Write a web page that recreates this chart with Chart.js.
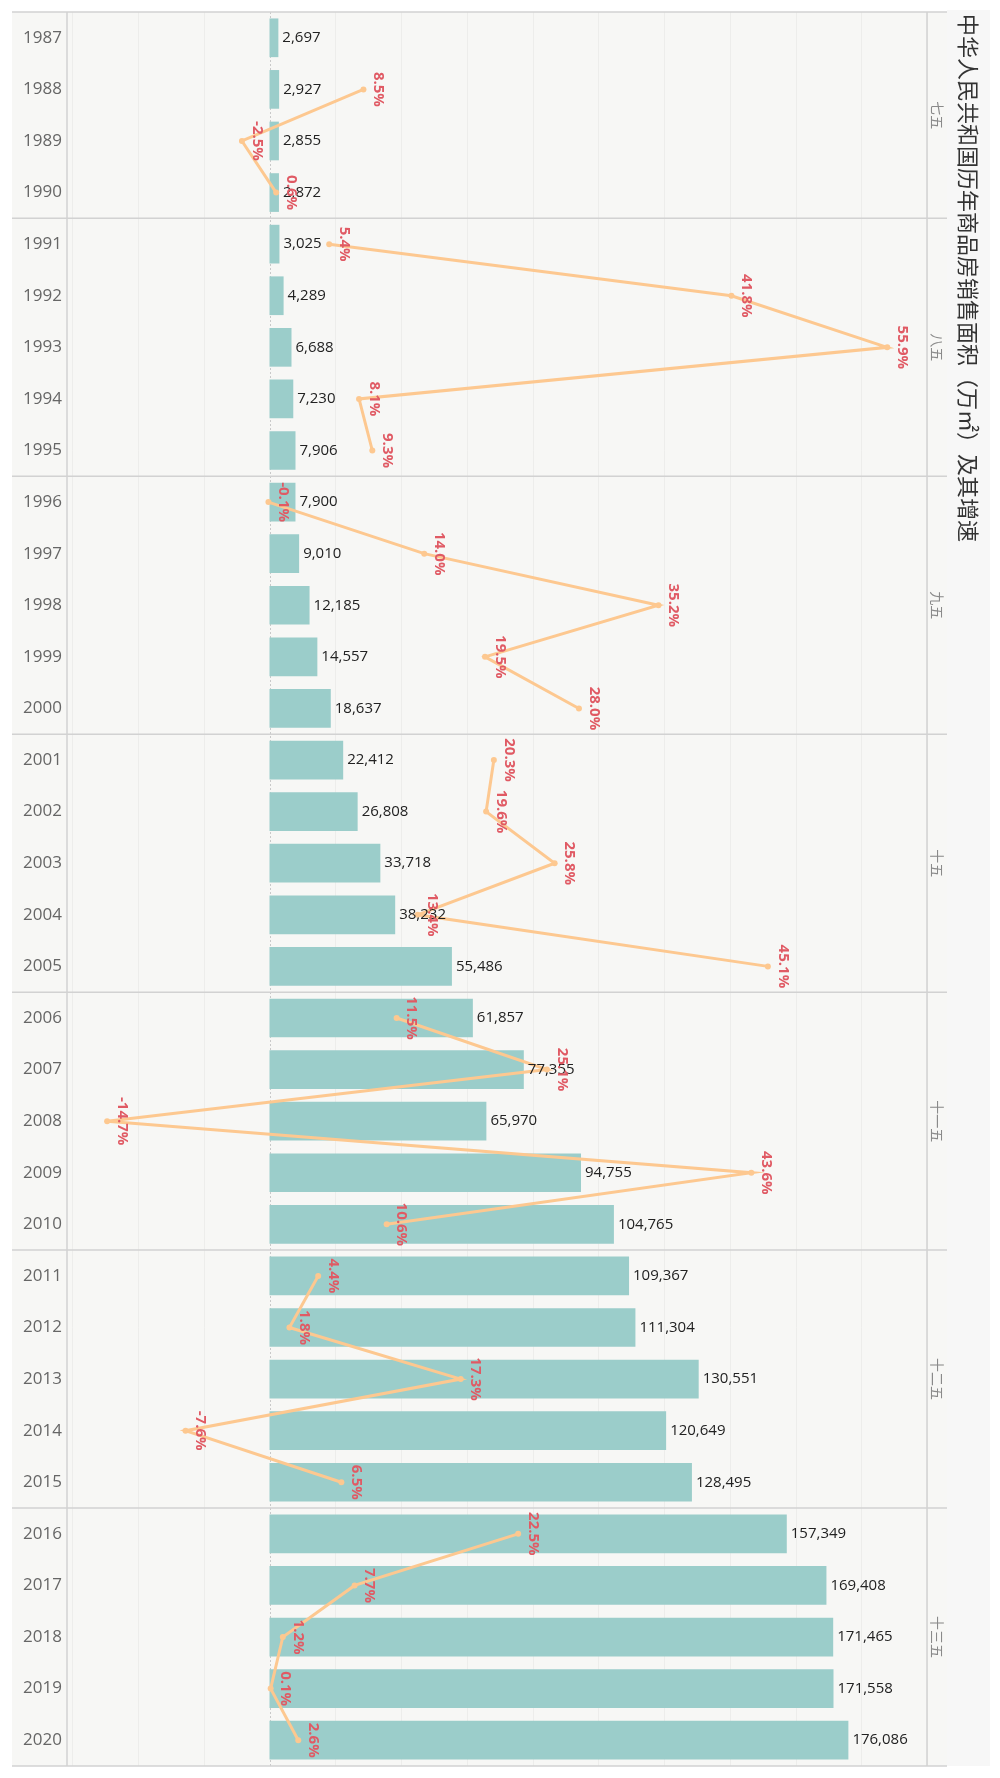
<!DOCTYPE html>
<html>
<head>
<meta charset="utf-8">
<script src="https://cdn.jsdelivr.net/npm/chart.js@4.4.0/dist/chart.umd.min.js"></script>
<style>
html,body{margin:0;padding:0;background:#fff;}
#wrap{width:1000px;height:1778px;position:relative;}
</style>
</head>
<body>
<div id="wrap"><canvas id="c" width="1000" height="1778"></canvas></div>
<script>
const years = [1987,1988,1989,1990,1991,1992,1993,1994,1995,1996,1997,1998,1999,2000,2001,2002,2003,2004,2005,2006,2007,2008,2009,2010,2011,2012,2013,2014,2015,2016,2017,2018,2019,2020];
const salesArea = [2697,2927,2855,2872,3025,4289,6688,7230,7906,7900,9010,12185,14557,18637,22412,26808,33718,38232,55486,61857,77355,65970,94755,104765,109367,111304,130551,120649,128495,157349,169408,171465,171558,176086];
const growthRate = [null,8.5,-2.5,0.6,5.4,41.8,55.9,8.1,9.3,-0.1,14.0,35.2,19.5,28.0,20.3,19.6,25.8,13.4,45.1,11.5,25.1,-14.7,43.6,10.6,4.4,1.8,17.3,-7.6,6.5,22.5,7.7,1.2,0.1,2.6];
const planNames = ['七五','八五','九五','十五','十一五','十二五','十三五'];
const planStartYears = [1987,1991,1996,2001,2006,2011,2016];
const gridValues = [-60000,-40000,-20000,0,20000,40000,60000,80000,100000,120000,140000,160000,180000,200000];
const titleText = '中华人民共和国历年商品房销售面积（万㎡）及其增速';

const CJK = '"Noto Sans CJK SC", "Noto Sans", sans-serif';
const NUM = '"Open Sans", "Noto Sans", sans-serif';
const BAR_COLOR = '#9bcdca';
const LINE_COLOR = '#fdc890';
const LABEL_RED = '#e05a64';

function hline(ctx, x1, x2, y) { ctx.beginPath(); ctx.moveTo(x1, y); ctx.lineTo(x2, y); ctx.stroke(); }
function vline(ctx, x, y1, y2) { ctx.beginPath(); ctx.moveTo(x, y1); ctx.lineTo(x, y2); ctx.stroke(); }

const decor = {
  id: 'decor',
  beforeDraw(chart) {
    const {ctx, chartArea: a, scales} = chart;
    const xs = scales.x, ys = scales.y;
    const L = 12, R = a.right + 20, T = a.top, B = a.bottom;
    ctx.save();
    ctx.fillStyle = '#f7f7f5';
    ctx.fillRect(L, T, R - L, B - T);
    ctx.fillStyle = '#f7f7f7';
    ctx.fillRect(R, T - 2, 43, B - T + 2);
    // vertical faint grid
    ctx.strokeStyle = '#ededeb';
    ctx.lineWidth = 1;
    gridValues.forEach(v => {
      if (v === 0) return;
      const px = Math.round(xs.getPixelForValue(v)) + 0.5;
      vline(ctx, px, T, B);
    });
    // zero dotted line
    ctx.strokeStyle = '#c9c9c9';
    ctx.setLineDash([2, 2]);
    const zx = Math.round(xs.getPixelForValue(0)) + 0.5;
    vline(ctx, zx, T, B);
    ctx.setLineDash([]);
    // borders
    ctx.strokeStyle = '#d2d2d2';
    ctx.lineWidth = 1.5;
    vline(ctx, a.left, T, B);
    vline(ctx, a.right, T, B);
    hline(ctx, L, R, T);
    hline(ctx, L, R, B);
    // group separators
    planStartYears.forEach(yr => {
      const i = years.indexOf(yr);
      if (i <= 0) return;
      const yy = (ys.getPixelForValue(i - 1) + ys.getPixelForValue(i)) / 2;
      hline(ctx, L, R, yy);
    });
    ctx.restore();
  },
  afterDatasetsDraw(chart) {
    const {ctx, chartArea: a, scales} = chart;
    const ys = scales.y;
    ctx.save();
    // bar value labels
    const barMeta = chart.getDatasetMeta(1);
    ctx.font = '15px ' + NUM;
    ctx.fillStyle = '#222';
    ctx.textAlign = 'left';
    ctx.textBaseline = 'middle';
    barMeta.data.forEach((el, i) => {
      ctx.fillText(salesArea[i].toLocaleString('en-US'), el.x + 4, el.y);
    });
    // growth labels
    const lineMeta = chart.getDatasetMeta(0);
    ctx.font = 'bold 15px ' + NUM;
    ctx.fillStyle = LABEL_RED;
    ctx.textAlign = 'center';
    lineMeta.data.forEach((el, i) => {
      const v = growthRate[i];
      if (v === null) return;
      ctx.save();
      ctx.translate(el.x + 15, el.y);
      ctx.rotate(Math.PI / 2);
      ctx.fillText(v.toFixed(1) + '%', 0, 0);
      ctx.restore();
    });
    // group labels
    ctx.font = '14px ' + CJK;
    ctx.fillStyle = '#8a8a8a';
    planStartYears.forEach((yr, g) => {
      const i0 = years.indexOf(yr);
      const i1 = g + 1 < planStartYears.length ? years.indexOf(planStartYears[g + 1]) - 1 : years.length - 1;
      const cy = (ys.getPixelForValue(i0) + ys.getPixelForValue(i1)) / 2;
      ctx.save();
      ctx.translate(a.right + 10, cy);
      ctx.rotate(Math.PI / 2);
      ctx.fillText(planNames[g], 0, 0);
      ctx.restore();
    });
    // title
    ctx.font = '22px ' + CJK;
    ctx.fillStyle = '#333';
    ctx.textAlign = 'left';
    ctx.save();
    ctx.translate(a.right + 41, a.top + 2);
    ctx.rotate(Math.PI / 2);
    ctx.fillText(titleText, 0, 0);
    ctx.restore();
    ctx.restore();
  }
};

const segBreak = ctx => {
  const yr = years[ctx.p1DataIndex];
  return planStartYears.includes(yr) ? 'rgba(0,0,0,0)' : LINE_COLOR;
};

new Chart(document.getElementById('c'), {
  type: 'bar',
  data: {
    labels: years.map(String),
    datasets: [
      {
        type: 'line',
        label: '增速',
        data: growthRate,
        xAxisID: 'x2',
        yAxisID: 'y',
        borderColor: LINE_COLOR,
        backgroundColor: LINE_COLOR,
        borderWidth: 3,
        pointRadius: 3,
        pointHoverRadius: 3,
        pointBackgroundColor: LINE_COLOR,
        pointBorderWidth: 0,
        tension: 0,
        spanGaps: false,
        segment: { borderColor: segBreak },
        order: 0
      },
      {
        type: 'bar',
        label: '商品房销售面积',
        data: salesArea,
        xAxisID: 'x',
        yAxisID: 'y',
        backgroundColor: BAR_COLOR,
        borderWidth: 0,
        categoryPercentage: 1,
        barPercentage: 0.75,
        order: 1
      }
    ]
  },
  options: {
    indexAxis: 'y',
    responsive: false,
    animation: false,
    devicePixelRatio: 1,
    layout: { padding: { left: 0, right: 73, top: 12, bottom: 12 } },
    plugins: { legend: { display: false }, tooltip: { enabled: false } },
    scales: {
      x: { type: 'linear', display: false, min: -61600, max: 200000 },
      x2: { type: 'linear', display: false, min: -18.33, max: 59.5 },
      y: {
        type: 'category',
        offset: true,
        grid: { display: false, drawTicks: false },
        border: { display: false },
        ticks: { color: '#666', font: { family: NUM, size: 17 }, padding: 5, autoSkip: false },
        afterFit: s => { s.width = 67; s.paddingTop = 0; s.paddingBottom = 0; }
      }
    }
  },
  plugins: [decor]
});
</script>
</body>
</html>
